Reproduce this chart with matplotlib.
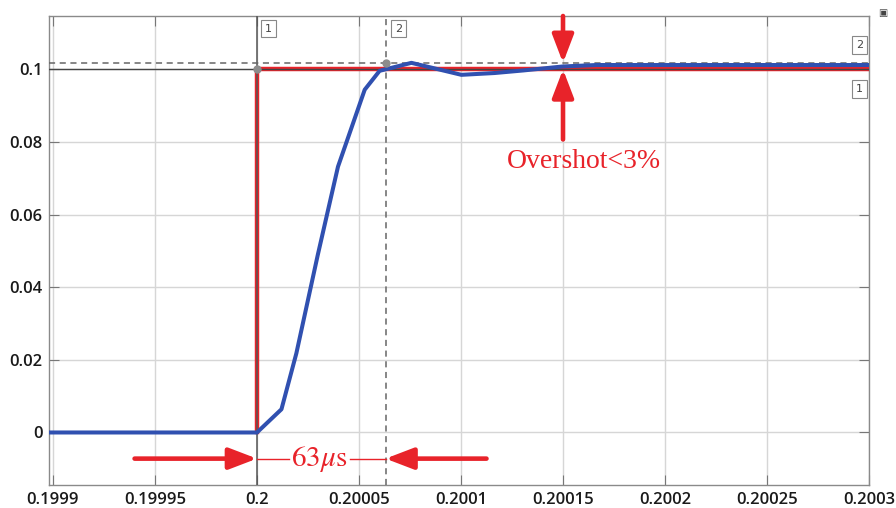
import matplotlib
matplotlib.use("Agg")
import matplotlib.pyplot as plt

# step reference (red) and measured response (blue)
ref_t = [0.2, 0.2, 0.2003]
ref_v = [0.0, 0.1, 0.1]

resp_t = [0.19989, 0.2, 0.200012, 0.2000193, 0.2000298, 0.2000397, 0.2000528,
          0.2000601, 0.2000757, 0.2001002, 0.2001165, 0.2001304, 0.2001499,
          0.2001664, 0.2003]
resp_v = [0.0, 0.0, 0.0064, 0.0218, 0.0489, 0.0732, 0.0944,
          0.0996, 0.1018, 0.0985, 0.0990, 0.0997, 0.1008,
          0.1012, 0.1012]

# cursors
cur1_t, cur1_v = 0.2, 0.1
cur2_t, cur2_v = 0.200063, 0.1018

xticks = [0.1999, 0.19995, 0.2, 0.20005, 0.2001, 0.20015, 0.2002, 0.20025, 0.2003]
xtick_labels = ['0.1999', '0.19995', '0.2', '0.20005', '0.2001', '0.20015', '0.2002', '0.20025', '0.2003']
yticks = [0, 0.02, 0.04, 0.06, 0.08, 0.1]
ytick_labels = ['0', '0.02', '0.04', '0.06', '0.08', '0.1']

RED = '#e8232a'
BLUE = '#3050b0'

plt.rcParams['mathtext.fontset'] = 'stix'

fig = plt.figure(figsize=(8.96, 5.08), dpi=100)
ax = fig.add_axes([0.0552, 0.0453, 0.9147, 0.9232])
ax.set_xlim(0.19989828, 0.2003)
ax.set_ylim(-0.01446, 0.1147)

ax.set_xticks(xticks)
ax.set_xticklabels(xtick_labels)
ax.set_yticks(yticks)
ax.set_yticklabels(ytick_labels)
ax.tick_params(direction='in', length=7, color='#777777', top=True, right=True,
               labelsize=12, labelcolor='#1a1a1a', pad=5)
for lab in ax.get_xticklabels() + ax.get_yticklabels():
    lab.set_fontfamily('Open Sans')
    lab.set_fontweight('semibold')
ax.grid(True, color='#d6d6d6', lw=1)
ax.set_axisbelow(True)
for s in ax.spines.values():
    s.set_color('#8a8a8a')
    s.set_linewidth(1)

# reference step
ax.plot(ref_t, ref_v, color=RED, lw=3.2, solid_joinstyle='miter', zorder=3)

# cursor 1 (solid) and cursor 2 (dashed)
ax.axvline(cur1_t, color='#555555', lw=1.1, zorder=4)
ax.axhline(cur1_v, color='#444444', lw=1.0, zorder=4)
ax.axvline(cur2_t, color='#666666', lw=1.1, ls=(0, (4, 3)), zorder=4)
ax.axhline(cur2_v, color='#666666', lw=1.1, ls=(0, (4, 3)), zorder=4)

# response
ax.plot(resp_t, resp_v, color=BLUE, lw=2.9, zorder=5, solid_joinstyle='round')

ax.plot([cur1_t, cur2_t], [cur1_v, cur2_v], 'o', color='#8c8c8c', ms=5, zorder=6)

# cursor tags
box = dict(boxstyle='square,pad=0.35', fc='white', ec='#888888', lw=0.8)
tag = dict(fontsize=8, color='#444444', fontfamily='DejaVu Sans', zorder=7)
ax.annotate('1', xy=(cur1_t, 1), xycoords=('data', 'axes fraction'),
            xytext=(6, -9), textcoords='offset points', va='center', bbox=box, **tag)
ax.annotate('2', xy=(cur2_t, 1), xycoords=('data', 'axes fraction'),
            xytext=(7, -9), textcoords='offset points', va='center', bbox=box, **tag)
ax.annotate('2', xy=(1, cur2_v), xycoords=('axes fraction', 'data'),
            xytext=(-7, 13), textcoords='offset points', va='center', ha='center', bbox=box, **tag)
ax.annotate('1', xy=(1, cur1_v), xycoords=('axes fraction', 'data'),
            xytext=(-7, -14), textcoords='offset points', va='center', ha='center', bbox=box, **tag)
fig.text(0.9855, 0.975, '\u25a3', fontsize=7, color='#444444', ha='center', va='center')

# overshoot annotation
arrow = dict(arrowstyle='-|>,head_length=1.7,head_width=0.65', color=RED, lw=3.3,
             shrinkA=0, shrinkB=0)
ax.annotate('', xy=(0.20015, cur2_v), xytext=(0.20015, 0.1147), arrowprops=arrow, zorder=8)
ax.annotate('', xy=(0.20015, cur1_v), xytext=(0.20015, 0.0807), arrowprops=arrow, zorder=8)
ax.text(0.2001605, 0.0745, 'Overshot<3%', color=RED, fontsize=20,
        fontfamily='Liberation Serif', ha='center', va='center', zorder=8)

# rise time annotation
yr = -0.0072
ax.annotate('', xy=(cur1_t, yr), xytext=(0.19994, yr), arrowprops=arrow, zorder=8)
ax.annotate('', xy=(cur2_t, yr), xytext=(0.2001125, yr), arrowprops=arrow, zorder=8)
ax.plot([cur1_t, 0.2000158], [yr, yr], color=RED, lw=1, zorder=8)
ax.plot([0.2000455, cur2_t], [yr, yr], color=RED, lw=1, zorder=8)
ax.text(0.2000305, yr, r'63$\mu$s', color=RED, fontsize=21,
        fontfamily='STIXGeneral', ha='center', va='center', zorder=8)

fig.savefig('out.png', dpi=100)
